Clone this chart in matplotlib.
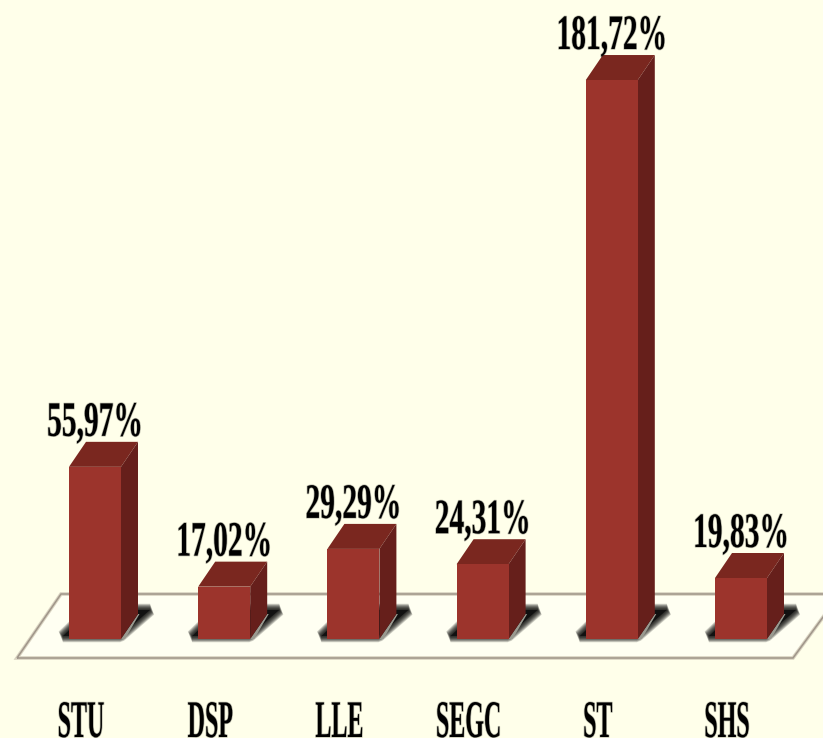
import matplotlib
matplotlib.use("Agg")
import matplotlib.pyplot as plt
from matplotlib.patches import Polygon
from matplotlib.patheffects import AbstractPathEffect
from matplotlib.transforms import Affine2D

categories = ["STU", "DSP", "LLE", "SEGC", "ST", "SHS"]
values = [55.97, 17.02, 29.29, 24.31, 181.72, 19.83]
value_labels = ["55,97%", "17,02%", "29,29%", "24,31%", "181,72%", "19,83%"]

W, H = 823, 738
X0, XSTEP = 95.0, 129.2      # px of the first bar centre, px between bars
Y0, YUNIT = 639.0, 3.076     # px of value 0, px per value unit
BAR_PX, DX_PX, DY_PX = 52, 17, 25

BG = "#FFFFEA"
FRONT, TOP, SIDE = "#9C342C", "#7A271F", "#661F1B"


class Stretch(AbstractPathEffect):
    """Stretch the glyphs about their baseline (the original font is condensed)."""
    def __init__(self, sy):
        super().__init__()
        self.sy = sy

    def draw_path(self, renderer, gc, tpath, affine, rgbFace=None):
        aff = Affine2D().scale(1, self.sy) + affine
        # faint halo for the soft look of the original, then the fill
        gc0 = renderer.new_gc()
        gc0.copy_properties(gc)
        gc0.set_linewidth(1.0)
        gc0.set_alpha(0.25)
        renderer.draw_path(gc0, tpath, aff, None)
        gc0.restore()
        renderer.draw_path(gc, tpath, aff, rgbFace)


fig = plt.figure(figsize=(W / 100, H / 100), dpi=100, facecolor=BG)
ax = fig.add_axes([0, 0, 1, 1])
ax.set_xlim(-X0 / XSTEP, (W - X0) / XSTEP)
ax.set_ylim((Y0 - H) / YUNIT, Y0 / YUNIT)
ax.axis("off")


def px(x, y):
    return ((x - X0) / XSTEP, (Y0 - y) / YUNIT)


# floor platform: soft outer line, then the core line
floor = [px(17, 658), px(61, 594), px(840, 594), px(793, 658)]
ax.add_patch(Polygon(floor, closed=True, facecolor="#FFFFF2", edgecolor="#D8D2C0",
                     linewidth=2.6, zorder=1))
ax.add_patch(Polygon(floor, closed=True, facecolor="none", edgecolor="#A0968A",
                     linewidth=1.1, zorder=1))

dx = DX_PX / XSTEP
dy = DY_PX / YUNIT
bw = BAR_PX / XSTEP

for i, (v, lab) in enumerate(zip(values, value_labels)):
    left, right = i - bw / 2, i + bw / 2
    # soft shadow on the floor: many faint layers build a blurred edge
    sx = lambda p: (i + (p - 95) / XSTEP)
    sy = lambda p: (Y0 - p) / YUNIT
    shadow = [(sx(63), sy(636)), (sx(120), sy(636)), (sx(150), sy(610)), (sx(90), sy(610))]
    for lw in [9, 8, 7, 6, 5, 4, 3, 2, 1]:
        ax.add_patch(Polygon(shadow, closed=True, facecolor="none", edgecolor="black",
                             alpha=0.17, linewidth=lw, joinstyle="bevel", zorder=2))
    ax.add_patch(Polygon(shadow, closed=True, facecolor="#111111", edgecolor="none", zorder=2))
    # light strip beside the base of the bar
    ax.add_patch(Polygon([(right, 0), (right + dx, dy), (right + dx + 1.5 / XSTEP, dy),
                          (right + 4 / XSTEP, 0)], closed=True, facecolor="#9A9A90",
                         edgecolor="none", zorder=3))
    ax.bar(i, v, width=bw, color=FRONT, linewidth=0, zorder=5)
    ax.add_patch(Polygon([(left, v), (right, v), (right + dx, v + dy), (left + dx, v + dy)],
                         closed=True, facecolor=TOP, edgecolor="none", zorder=4))
    ax.add_patch(Polygon([(right, 0), (right + dx, dy), (right + dx, v + dy), (right, v)],
                         closed=True, facecolor=SIDE, edgecolor="none", zorder=4))
    ax.annotate(lab, (i, v), xytext=(0, (DY_PX + 6) * 0.72), textcoords="offset points",
                ha="center", va="baseline", family="Liberation Serif", weight="bold",
                fontsize=29.5 * 0.72, color="black", zorder=6, path_effects=[Stretch(1.68)])

for i, c in enumerate(categories):
    ax.annotate(c, (i, 0), xytext=(-14 * 0.72, -98 * 0.72), textcoords="offset points",
                ha="center", va="baseline", family="Liberation Serif", weight="bold",
                fontsize=24 * 0.72, color="black", zorder=6, annotation_clip=False,
                path_effects=[Stretch(2.2)])

fig.savefig("out.png", dpi=100, facecolor=BG)
